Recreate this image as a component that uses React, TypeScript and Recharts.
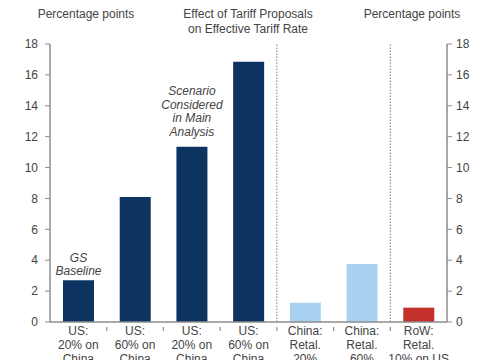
import React from 'react';
import { BarChart, Bar, Cell, XAxis, YAxis, ReferenceLine, LabelList } from 'recharts';

const categories = [
  'US:\n20% on\nChina',
  'US:\n60% on\nChina',
  'US:\n20% on\nChina',
  'US:\n60% on\nChina',
  'China:\nRetal.\n20%',
  'China:\nRetal.\n60%',
  'RoW:\nRetal.\n10% on US',
];
const values = [2.7, 8.1, 11.35, 16.85, 1.25, 3.75, 0.93];
const barColors = ['#0d3461', '#0d3461', '#0d3461', '#0d3461', '#a9d2f1', '#a9d2f1', '#c4302c'];
const yTicks = [0, 2, 4, 6, 8, 10, 12, 14, 16, 18];
const separators = [4, 6]; // category index where a dotted divider starts
const annotations = [
  { index: 0, lines: ['GS', 'Baseline'], gap: 5 },
  { index: 2, lines: ['Scenario', 'Considered', 'in Main', 'Analysis'], gap: 11 },
];

const FONT = '"Liberation Sans", Arial, sans-serif';
const TEXT = '#444';
const AXIS = '#8c8c8c';
const WIDTH = 485;
const LEFT_W = 50;
const RIGHT_W = 38;
const BAND = (WIDTH - LEFT_W - RIGHT_W) / categories.length;

const data = categories.map((name, i) => ({ name, value: values[i], color: barColors[i] }));

const CategoryTick = (props: any) => {
  const { x, y, payload, index } = props;
  const lines = String(payload.value).split('\n');
  const edge = Number(x) - BAND / 2;
  return (
    <g>
      {index > 0 && <line x1={edge} x2={edge} y1={y - 1} y2={y + 3} stroke={AXIS} strokeWidth={1.2} />}
      <text x={x} y={y} textAnchor="middle" fill={TEXT} fontSize={12} fontFamily={FONT}>
        {lines.map((line, i) => (
          <tspan key={i} x={x} dy={i === 0 ? 7 : 14}>
            {line}
          </tspan>
        ))}
      </text>
    </g>
  );
};

const Annotation = (props: any) => {
  const { x, y, width, index } = props;
  const note = annotations.find((a) => a.index === index);
  if (!note) return null;
  const cx = Number(x) + Number(width) / 2;
  const n = note.lines.length;
  return (
    <text textAnchor="middle" fill={TEXT} fontSize={12} fontStyle="italic" fontFamily={FONT}>
      {note.lines.map((line, i) => (
        <tspan key={i} x={cx} y={Number(y) - note.gap - (n - 1 - i) * 13.5}>
          {line}
        </tspan>
      ))}
    </text>
  );
};

const titleStyle: React.CSSProperties = {
  position: 'absolute',
  fontFamily: FONT,
  fontSize: 12,
  color: TEXT,
  textAlign: 'center',
  lineHeight: '15px',
  whiteSpace: 'nowrap',
  transform: 'translateX(-50%)',
};

export default function App() {
  return (
    <div style={{ position: 'absolute', left: 0, top: 0, width: 485, height: 360, background: '#fff' }}>
      <div style={{ ...titleStyle, left: 86, top: 7 }}>Percentage points</div>
      <div style={{ ...titleStyle, left: 248, top: 7 }}>
        Effect of Tariff Proposals
        <br />
        on Effective Tariff Rate
      </div>
      <div style={{ ...titleStyle, left: 412, top: 7 }}>Percentage points</div>
      <BarChart
        width={WIDTH}
        height={360}
        data={data}
        margin={{ top: 44, right: 0, bottom: 0, left: 0 }}
      >
        <XAxis
          xAxisId="cat"
          dataKey="name"
          height={38}
          axisLine={{ stroke: AXIS, strokeWidth: 1.5 }}
          tickLine={false}
          tickMargin={0}
          interval={0}
          tick={<CategoryTick />}
        />
        <YAxis
          yAxisId="left"
          domain={[0, 18]}
          ticks={yTicks}
          width={LEFT_W}
          tickSize={5}
          tickMargin={7}
          stroke={AXIS}
          axisLine={{ stroke: AXIS, strokeWidth: 1.5 }}
          tick={{ fill: TEXT, fontSize: 12, fontFamily: FONT }}
        />
        <YAxis
          yAxisId="right"
          orientation="right"
          domain={[0, 18]}
          allowDataOverflow
          ticks={yTicks}
          width={RIGHT_W}
          tickSize={5}
          tickMargin={4}
          stroke={AXIS}
          axisLine={{ stroke: AXIS, strokeWidth: 1.5 }}
          tick={{ fill: TEXT, fontSize: 12, fontFamily: FONT }}
        />
        {separators.map((s) => (
          <ReferenceLine
            key={s}
            xAxisId="cat"
            yAxisId="left"
            x={s}
            position="start"
            stroke="#7a7a7a"
            strokeWidth={1}
            strokeDasharray="1.5 1.5"
          />
        ))}
        <Bar
          xAxisId="cat"
          yAxisId="left"
          dataKey="value"
          barSize={31}
          isAnimationActive={false}
        >
          {data.map((d, i) => (
            <Cell key={i} fill={d.color} />
          ))}
          <LabelList dataKey="value" content={<Annotation />} />
        </Bar>
      </BarChart>
    </div>
  );
}
